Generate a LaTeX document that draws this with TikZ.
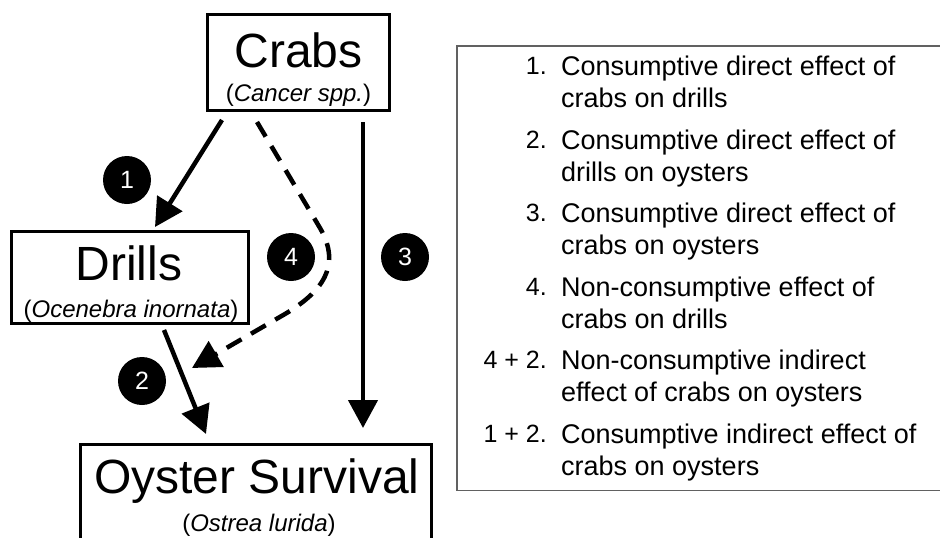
\documentclass[tikz,border=0pt]{standalone}
\usepackage{fontspec}
\setmainfont{Liberation Sans}
\usetikzlibrary{arrows.meta}
\begin{document}
\begin{tikzpicture}[x=1pt,y=-1pt,
  box/.style={draw, line width=3.2pt, inner sep=0pt},
  big/.style={font=\fontsize{48}{58}\selectfont, inner sep=0pt, anchor=base},
  sub/.style={font=\fontsize{24}{29}\selectfont, inner sep=0pt, anchor=base},
  badge/.style={circle, fill=black, minimum size=48pt, inner sep=0pt, text=white, font=\fontsize{25}{30}\selectfont},
  arr/.style={line width=4.5pt, -{Triangle[length=28pt,width=29pt]}},
  darr/.style={arr, dash pattern=on 17pt off 11pt},
  legnum/.style={anchor=base east, inner sep=0pt, font=\fontsize{25}{30}\selectfont},
  legtxt/.style={anchor=base west, inner sep=0pt, font=\fontsize{27}{32}\selectfont},
  legbox/.style={draw=black!62, line width=1.5pt, inner sep=0pt}
]
\clip (0,0) rectangle (940,538);
\fill[white] (0,0) rectangle (940,538);

% boxes
\node[box, minimum width=181.8pt, minimum height=95.8pt] (crabs) at (298.5,62.5) {};
\node[box, minimum width=236.8pt, minimum height=91.8pt] (drills) at (130,277.5) {};
\node[box, minimum width=350.8pt, minimum height=160pt] (oyster) at (256,524.6) {};

% box texts
\node[big] (crabsT) at (298.5,67) {Crabs};
\node[sub] (crabsS) at (298.5,101) {(\textit{Cancer spp.})};
\node[big] (drillsT) at (129,280) {Drills};
\node[sub] (drillsS) at (131,317) {(\textit{Ocenebra inornata})};
\node[big] (oysterT) at (257,493) {Oyster Survival};
\node[sub] (oysterS) at (259,531) {(\textit{Ostrea lurida})};

% arrows
\draw[arr] ([shift={(16pt,-8pt)}]crabs.south west) -- ([shift={(25pt,3pt)}]drills.north);
\draw[arr] ([shift={(34pt,-5pt)}]drills.south) -- ([shift={(-50pt,9pt)}]oyster.north);
\draw[arr] ([shift={(-28pt,-10pt)}]crabs.south east) -- ([shift={(-70pt,15pt)}]oyster.north east);
\coordinate (dtip) at (192,368);
\draw[darr] ([shift={(-41.5pt,-10pt)}]crabs.south) -- (320,228)
  .. controls (342,266) and (322,292) .. (285,314) -- (dtip);

% badges
\node[badge] (b1) at (127,180) {1};
\node[badge] (b2) at (142,381) {2};
\node[badge] (b3) at (405,257) {3};
\node[badge] (b4) at (291,257) {4};

% legend
\node[legbox, minimum width=600pt, minimum height=444.5pt] (legend) at (756.75,268) {};
\foreach \i/\n/\la/\lb [evaluate=\i as \y using {75.5+73.6*(\i-1)}] in {
  1/1./Consumptive direct effect of/crabs on drills,
  2/2./Consumptive direct effect of/drills on oysters,
  3/3./Consumptive direct effect of/crabs on oysters,
  4/4./Non-consumptive effect of/crabs on drills,
  5/4 + 2./Non-consumptive indirect/effect of crabs on oysters,
  6/1 + 2./Consumptive indirect effect of/crabs on oysters}{
  \node[legnum] (num\i) at (547,{\y-1}) {\n};
  \node[legtxt] (la\i) at (561,\y) {\la};
  \node[legtxt] (lb\i) at (561,{\y+32}) {\lb};
}
\end{tikzpicture}
\end{document}
